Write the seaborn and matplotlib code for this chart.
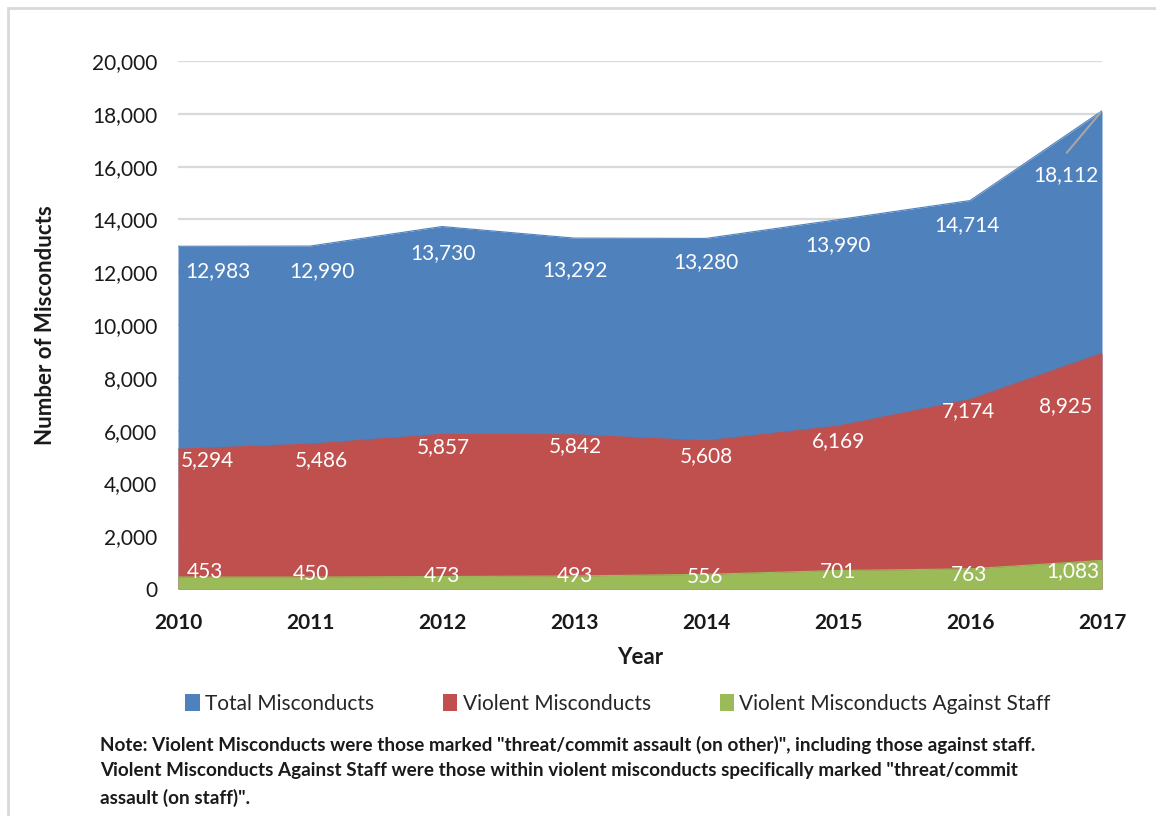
import matplotlib
matplotlib.use("Agg")
import matplotlib.pyplot as plt
from matplotlib.patches import Patch, Rectangle
import seaborn as sns
import pandas as pd

years = [2010, 2011, 2012, 2013, 2014, 2015, 2016, 2017]
total = [12983, 12990, 13730, 13292, 13280, 13990, 14714, 18112]
violent = [5294, 5486, 5857, 5842, 5608, 6169, 7174, 8925]
staff = [453, 450, 473, 493, 556, 701, 763, 1083]
series_names = ["Total Misconducts", "Violent Misconducts", "Violent Misconducts Against Staff"]
yticks = [0, 2000, 4000, 6000, 8000, 10000, 12000, 14000, 16000, 18000, 20000]

colors = ["#4F81BD", "#C0504D", "#9BBB59"]

sns.set_theme(style="white")
plt.rcParams["font.family"] = ["Lato", "DejaVu Sans"]

df = pd.DataFrame({"Year": years, series_names[0]: total,
                   series_names[1]: violent, series_names[2]: staff})

fig = plt.figure(figsize=(11.56, 8.16), dpi=100)
ax = fig.add_axes([178 / 1156, 1 - 589 / 816, (1102 - 178) / 1156, (589 - 61) / 816])

for y in yticks:
    ax.axhline(y, color="#D9D9D9", lw=1.6, zorder=0)

for name, col in zip(series_names, colors):
    sns.lineplot(data=df, x="Year", y=name, ax=ax, color=col, lw=0.8, zorder=2)
    ax.fill_between(df["Year"], 0, df[name], color=col, lw=0, zorder=2)

# label offsets in pixels (dx, dy) relative to each data point
off_total = [(40, -25), (12, -25), (1, -27), (1, -32), (0, -24), (0, -25), (-3, -25), (-36, -64)]
off_violent = [(29, -11), (11, -16), (1, -13), (1, -11), (0, -15), (0, -15), (-2, -11), (-36, -53)]
off_staff = [(27, 5), (1, 3), (0, 1), (1, 0), (-1, -3), (0, -2), (-1, -6), (-29, -11)]

def fmt(v):
    return f"{v:,}"

for vals, offs in [(total, off_total), (violent, off_violent), (staff, off_staff)]:
    for x, v, (dx, dy) in zip(years, vals, offs):
        ax.annotate(fmt(v), (x, v), xytext=(dx, dy), textcoords="offset pixels",
                    ha="center", va="center", color="white", fontsize=15, zorder=4)

# leader line for the last total label
ax.annotate("", xy=(2017, total[-1]), xytext=(-37, -44), textcoords="offset pixels",
            arrowprops=dict(arrowstyle="-", color="#A6A6A6", lw=1.5), zorder=4)

ax.set_xlim(2010, 2017)
ax.set_ylim(0, 20000)
ax.set_yticks(yticks)
ax.set_yticklabels([fmt(t) for t in yticks], fontsize=15, color="#1a1a1a")
ax.set_xticks(years)
ax.set_xticklabels([str(y) for y in years], fontsize=15, fontweight="bold", color="#1a1a1a")
ax.tick_params(axis="y", length=0, pad=15)
ax.tick_params(axis="x", length=0, pad=17)
for s in ax.spines.values():
    s.set_visible(False)
ax.set_xlabel("Year", fontsize=16, fontweight="bold", labelpad=10, color="#1a1a1a")
ax.set_ylabel("Number of Misconducts", fontsize=16, fontweight="bold", labelpad=26, color="#1a1a1a")

handles = [Patch(facecolor=c, edgecolor="none") for c in colors]
fig.legend(handles, series_names, loc="center", bbox_to_anchor=(618 / 1156, 1 - 704 / 816),
           ncol=3, frameon=False, fontsize=15, handlelength=0.7, handleheight=0.9,
           handletextpad=0.25, columnspacing=3.3)

note = ("Note: Violent Misconducts were those marked \"threat/commit assault (on other)\", including those against staff.\n"
        "Violent Misconducts Against Staff were those within violent misconducts specifically marked \"threat/commit\n"
        "assault (on staff)\".")
fig.text(100 / 1156, 1 - 736 / 816, note, ha="left", va="top", fontsize=13.6,
         fontweight="bold", color="#1a1a1a", linespacing=1.6)

fig.patches.append(Rectangle((8 / 1156, -0.1), 1.2, 1 - 8 / 816 + 0.1, transform=fig.transFigure,
                             fill=False, edgecolor="#D9D9D9", lw=2))

fig.savefig("out.png", dpi=100)
